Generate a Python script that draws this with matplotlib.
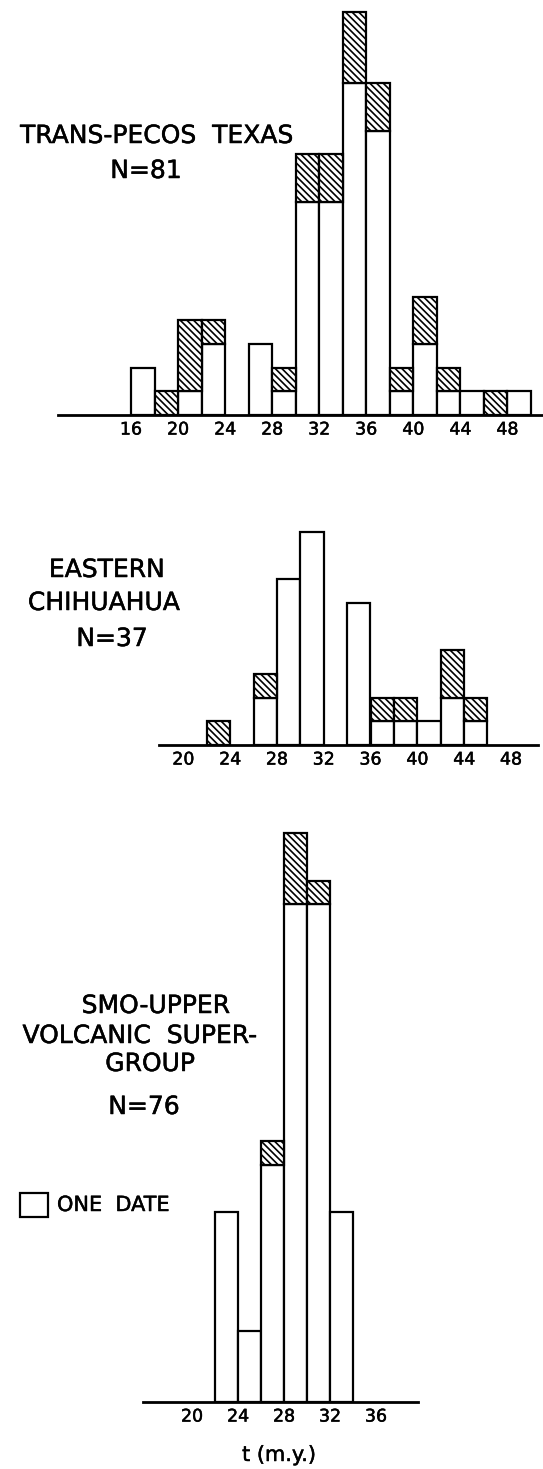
import matplotlib
matplotlib.use("Agg")
import matplotlib.pyplot as plt
import matplotlib.patheffects as pe
from matplotlib.patches import Rectangle

# number of dates per 2 m.y. interval (left edge of interval)
# white = lower (open) part of the bar, hatched = upper (hatched) part
tpt_bins = [16, 18, 20, 22, 24, 26, 28, 30, 32, 34, 36, 38, 40, 42, 44, 46, 48]
tpt_white = [2, 0, 1, 3, 0, 3, 1, 9, 9, 14, 12, 1, 3, 1, 1, 0, 1]
tpt_hatched = [0, 1, 3, 1, 0, 0, 1, 2, 2, 3, 2, 1, 2, 1, 0, 1, 0]
tpt_ticks = [16, 20, 24, 28, 32, 36, 40, 44, 48]

chi_bins = [22, 24, 26, 28, 30, 32, 34, 36, 38, 40, 42, 44]
chi_white = [0, 0, 2, 7, 9, 0, 6, 1, 1, 1, 2, 1]
chi_hatched = [1, 0, 1, 0, 0, 0, 0, 1, 1, 0, 2, 1]
chi_ticks = [20, 24, 28, 32, 36, 40, 44, 48]

smo_bins = [22, 24, 26, 28, 30, 32]
smo_white = [8, 3, 10, 21, 21, 8]
smo_hatched = [0, 0, 1, 3, 1, 0]
smo_ticks = [20, 24, 28, 32, 36]

W, H = 543, 1469
UNIT = 23.7  # pixels per date
HATCH = "\\\\\\\\\\"
THICK = [pe.withStroke(linewidth=0.35, foreground="black")]

plt.rcParams["font.family"] = "DejaVu Sans"
plt.rcParams["hatch.linewidth"] = 1.2

fig = plt.figure(figsize=(W / 100, H / 100), dpi=100)


def panel(x0, x1, y_top, y_axis, x_ref, x_ref_px, px_per_my, bins, white, hatched, ticks):
    ax = fig.add_axes([x0 / W, 1 - y_axis / H, (x1 - x0) / W, (y_axis - y_top) / H])
    xmin = x_ref - (x_ref_px - x0) / px_per_my
    ax.set_xlim(xmin, xmin + (x1 - x0) / px_per_my)
    ax.set_ylim(0, (y_axis - y_top) / UNIT)

    wb = [(b, w) for b, w in zip(bins, white) if w > 0]
    ax.bar([b for b, _ in wb], [w for _, w in wb], width=2, align="edge",
           color="white", edgecolor="black", linewidth=1.6)
    hb = [(b, h, w) for b, h, w in zip(bins, hatched, white) if h > 0]
    ax.bar([b for b, _, _ in hb], [h for _, h, _ in hb], bottom=[w for _, _, w in hb],
           width=2, align="edge", color="white", edgecolor="black",
           linewidth=1.6, hatch=HATCH)

    for s in ["left", "right", "top"]:
        ax.spines[s].set_visible(False)
    ax.spines["bottom"].set_linewidth(2.0)
    ax.set_yticks([])
    ax.set_xticks(ticks)
    ax.tick_params(axis="x", length=0, pad=4, labelsize=12.5)
    for t in ax.get_xticklabels():
        t.set_path_effects(THICK)
    ax.patch.set_alpha(0)
    return ax


panel(58, 543, 0, 415, 16, 131, 11.76, tpt_bins, tpt_white, tpt_hatched, tpt_ticks)
panel(159, 538, 480, 745, 22, 206.7, 11.7, chi_bins, chi_white, chi_hatched, chi_ticks)
panel(143, 418, 800, 1402, 22, 215, 11.5, smo_bins, smo_white, smo_hatched, smo_ticks)


def label(x, y, s, size=18, ha="center"):
    fig.text(x / W, 1 - y / H, s, fontsize=size, ha=ha, va="baseline",
             path_effects=THICK)


label(157, 143, "TRANS-PECOS  TEXAS")
label(146, 178, "N=81")

label(107, 577, "EASTERN")
label(104, 610, "CHIHUAHUA")
label(112, 646, "N=37")

label(156, 1013, "SMO-UPPER")
label(140, 1043, "VOLCANIC  SUPER-")
label(150, 1071, "GROUP")
label(144, 1114, "N=76")

# legend box
fig.patches.append(Rectangle((20 / W, 1 - 1217 / H), 28 / W, 24 / H,
                             transform=fig.transFigure, facecolor="white",
                             edgecolor="black", linewidth=1.6))
label(57, 1211, "ONE  DATE", size=15, ha="left")

fig.text(279 / W, 1 - 1455 / H, "t (m.y.)", fontsize=15, ha="center", va="center",
         path_effects=THICK)

fig.savefig("out.png", dpi=100)
